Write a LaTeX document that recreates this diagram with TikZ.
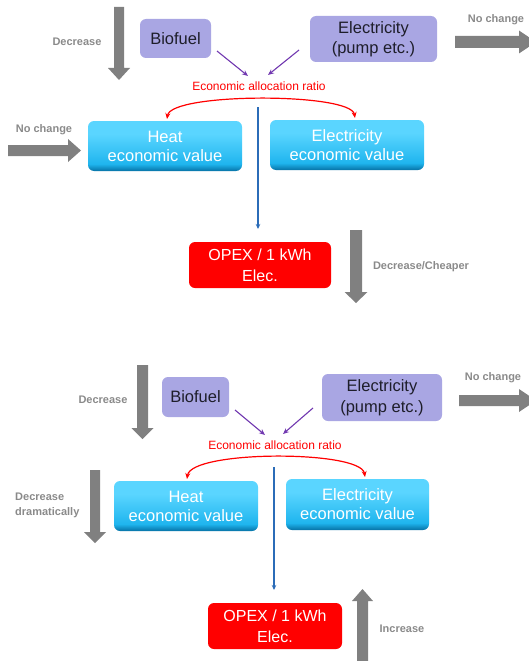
\documentclass[tikz,border=0pt]{standalone}
\usepackage{fontspec}
\setmainfont{Liberation Sans}
\usetikzlibrary{arrows.meta}
\definecolor{lav}{HTML}{A9A6E3}
\definecolor{cyT}{HTML}{5AD5FF}
\definecolor{cyM}{HTML}{1FB5EE}
\definecolor{cyB}{HTML}{0672A6}
\definecolor{garr}{HTML}{808080}
\definecolor{glab}{HTML}{8A8A8A}
\definecolor{blu}{HTML}{2B6CB8}
\definecolor{purp}{HTML}{7138B0}
\definecolor{boxtext}{HTML}{1E1E2A}
\pgfdeclareverticalshading{cyanbox}{100bp}{color(0bp)=(cyB); color(25bp)=(cyB); color(32bp)=(cyM); color(62bp)=(cyT); color(100bp)=(cyT)}
\tikzset{
  inbox/.style={rectangle, rounded corners=6pt, fill=lav, text=boxtext, font=\fontsize{16.5}{20.5}\selectfont, align=center, inner sep=0pt},
  valbox/.style={rectangle, rounded corners=6pt, shading=cyanbox, text=white, font=\fontsize{16.5}{19}\selectfont, align=center, inner sep=0pt},
  opexbox/.style={rectangle, rounded corners=6pt, fill=red, text=white, font=\fontsize{16}{21}\selectfont, align=center, inner sep=0pt},
  glabel/.style={text=glab, font=\bfseries\fontsize{11}{15}\selectfont, inner sep=0pt},
  rlabel/.style={text=red, font=\fontsize{12}{14}\selectfont, inner sep=0pt},
  garrow/.style={fill=garr, draw=none},
  purpar/.style={draw=purp, line width=1.1pt, -{Stealth[length=6pt,width=5pt]}},
  bluar/.style={draw=blu, line width=1.2pt, -{Stealth[length=5pt,width=4.5pt]}},
  redar/.style={draw=red, line width=1.2pt, {Stealth[length=6pt,width=5pt]}-{Stealth[length=6pt,width=5pt]}}
}
% x, ytop, yhead, ytip, halfshaft, halfhead
\newcommand\gdownarr[6]{\fill[garrow] (#1-#5,#2) -- (#1+#5,#2) -- (#1+#5,#3) -- (#1+#6,#3) -- (#1,#4) -- (#1-#6,#3) -- (#1-#5,#3) -- cycle;}
% y, xstart, xhead, xtip, halfshaft, halfhead
\newcommand\grightarr[6]{\fill[garrow] (#2,#1-#5) -- (#3,#1-#5) -- (#3,#1-#6) -- (#4,#1) -- (#3,#1+#6) -- (#3,#1+#5) -- (#2,#1+#5) -- cycle;}
\begin{document}
\begin{tikzpicture}[x=1pt,y=-1pt]
\useasboundingbox (0,0) rectangle (529,661);
\clip (0,0) rectangle (529,661);

% ---------------- top scenario ----------------
\gdownarr{119}{7}{68}{80}{5}{11}
\node[glabel] (t-dec) at (77,42) {Decrease};
\grightarr{42}{455}{519}{536}{6}{11.5}
\node[glabel] (t-nc1) at (496,20) {No change};
\grightarr{150.5}{8}{68}{81}{5.5}{11.5}
\node[glabel] (t-nc2) at (44,130) {No change};
\gdownarr{356}{230}{292}{303}{6}{11.5}
\node[glabel] (t-chp) at (421,267) {Decrease/Cheaper};

\node[inbox, minimum width=71pt, minimum height=39pt] (t-bio) at (175.5,38.5) {Biofuel};
\node[inbox, minimum width=127pt, minimum height=46pt] (t-ele) at (373.5,39) {Electricity\\(pump etc.)};
\node[rlabel] (t-ratio) at (259,86) {Economic allocation ratio};
\node[valbox, minimum width=154pt, minimum height=50pt] (t-heat) at (165,146) {Heat\\economic value};
\node[valbox, minimum width=154pt, minimum height=50pt] (t-elv) at (347,145) {Electricity\\economic value};
\node[opexbox, minimum width=142pt, minimum height=46pt] (t-opex) at (260,265) {OPEX / 1 kWh\\Elec.};

\coordinate (t-p1s) at (217,51);
\coordinate (t-p1e) at (248,76);
\coordinate (t-p2s) at (299,50);
\coordinate (t-p2e) at (268,75);
\draw[purpar] (t-p1s) -- (t-p1e);
\draw[purpar] (t-p2s) -- (t-p2e);
\coordinate (t-r1) at (167,119);
\coordinate (t-r2) at (355,118);
\draw[redar] (t-r1) .. controls (171,92.5) and (351,92.5) .. (t-r2);
\coordinate (t-bs) at (258,107);
\coordinate (t-be) at (258,229);
\draw[bluar] (t-bs) -- (t-be);

% ---------------- bottom scenario ----------------
\gdownarr{142.5}{365}{428}{439}{5.5}{11}
\node[glabel] (b-dec) at (103,400) {Decrease};
\grightarr{400.5}{459}{519}{536}{5.5}{11.5}
\node[glabel] (b-nc) at (493,378) {No change};
\gdownarr{95}{470}{532}{543}{5}{11}
\node[glabel, align=left, anchor=west] (b-dd) at (15,505.5) {Decrease\\dramatically};
\gdownarr{362.5}{666}{601}{589}{5.5}{10.5}
\node[glabel] (b-inc) at (402,629) {Increase};

\node[inbox, minimum width=67pt, minimum height=40pt] (b-bio) at (195.5,397) {Biofuel};
\node[inbox, minimum width=120pt, minimum height=47pt] (b-ele) at (382,397.5) {Electricity\\(pump etc.)};
\node[rlabel] (b-ratio) at (275,445) {Economic allocation ratio};
\node[valbox, minimum width=144pt, minimum height=50pt] (b-heat) at (186,506) {Heat\\economic value};
\node[valbox, minimum width=143pt, minimum height=51pt] (b-elv) at (357.5,504.5) {Electricity\\economic value};
\node[opexbox, minimum width=134pt, minimum height=46pt] (b-opex) at (275,626) {OPEX / 1 kWh\\Elec.};

\coordinate (b-p1s) at (235,410);
\coordinate (b-p1e) at (265,435);
\coordinate (b-p2s) at (313,408);
\coordinate (b-p2e) at (283,434);
\draw[purpar] (b-p1s) -- (b-p1e);
\draw[purpar] (b-p2s) -- (b-p2e);
\coordinate (b-r1) at (187,479);
\coordinate (b-r2) at (365,477);
\draw[redar] (b-r1) .. controls (191,450) and (361,450) .. (b-r2);
\coordinate (b-bs) at (274,467);
\coordinate (b-be) at (274,590);
\draw[bluar] (b-bs) -- (b-be);
\end{tikzpicture}
\end{document}
